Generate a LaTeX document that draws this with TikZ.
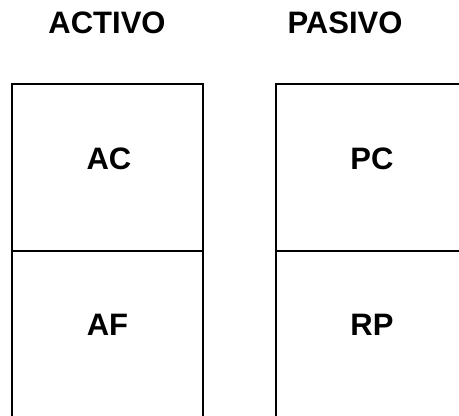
\documentclass[tikz,border=0pt]{standalone}
\usepackage{fontspec}
\setmainfont{Liberation Sans}
\begin{document}
\begin{tikzpicture}[x=1pt,y=-1pt,
  lbl/.style={inner sep=0pt,font=\fontsize{31}{37}\selectfont\bfseries},
  boxline/.style={line width=1.8pt}]
\useasboundingbox (0,0) rectangle (459,416);
\clip (0,0) rectangle (459,416);
\fill[white] (0,0) rectangle (459,416);
% left column
\coordinate (lbl1) at (12,430);
\coordinate (ltl) at (12,84);
\coordinate (ltr) at (203,84);
\coordinate (lbr) at (203,430);
\coordinate (lml) at (12,251);
\coordinate (lmr) at (203,251);
\draw[boxline] (lbl1) -- (ltl) -- (ltr) -- (lbr);
\draw[boxline] (lml) -- (lmr);
% right column
\coordinate (rbl) at (276,430);
\coordinate (rtl) at (276,84);
\coordinate (rtr) at (467,84);
\coordinate (rbr) at (467,430);
\coordinate (rml) at (276,251);
\coordinate (rmr) at (467,251);
\draw[boxline] (rbl) -- (rtl) -- (rtr) -- (rbr);
\draw[boxline] (rml) -- (rmr);
% labels
\node[lbl] (activo) at (107,22.5) {ACTIVO};
\node[lbl] (pasivo) at (345,22.5) {PASIVO};
\node[lbl] (ac) at (109,159) {AC};
\node[lbl] (pc) at (372,159) {PC};
\node[lbl] (af) at (107.5,324.5) {AF};
\node[lbl] (rp) at (372,324.5) {RP};
\end{tikzpicture}
\end{document}
